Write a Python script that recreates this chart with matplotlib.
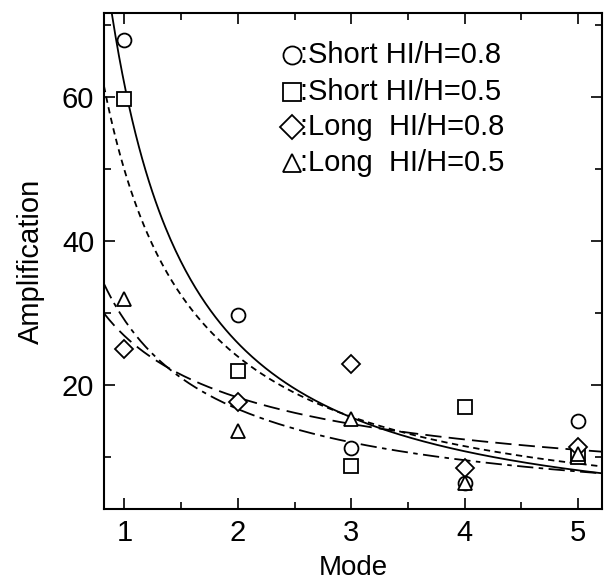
import numpy as np
import matplotlib
matplotlib.use("Agg")
import matplotlib.pyplot as plt
from matplotlib.ticker import MultipleLocator

plt.rcParams['font.family'] = ['Liberation Sans', 'DejaVu Sans']

modes = [1, 2, 3, 4, 5]
short_08 = [67.9, 29.7, 11.3, 6.4, 15.0]
short_05 = [59.7, 21.9, 8.8, 17.0, 10.0]
long_08 = [25.0, 17.7, 22.9, 8.5, 11.4]
long_05 = [32.0, 13.6, 15.3, 6.4, 10.5]
labels = [":Short HI/H=0.8", ":Short HI/H=0.5", ":Long  HI/H=0.8", ":Long  HI/H=0.5"]

series = [short_08, short_05, long_08, long_05]
markers = ['o', 's', 'D', '^']
msizes = [10, 10, 9, 10]
lstyles = ['-', (0, (3.5, 2.5)), (0, (9, 4)), (0, (9, 3, 2.5, 3))]

fig = plt.figure(figsize=(6.08, 5.85), dpi=100)
ax = fig.add_axes([0.171, 0.130, 0.819, 0.848])

xlo, xhi = 0.82, 5.21
xs = np.linspace(xlo, xhi, 300)
m = np.array(modes, dtype=float)
for vals, mk, ms, ls in zip(series, markers, msizes, lstyles):
    v = np.array(vals)
    b, a = np.polyfit(np.log(m), np.log(v), 1)
    ax.plot(xs, np.exp(a) * xs ** b, color='black', lw=1.3, linestyle=ls)
    ax.plot(m, v, linestyle='none', marker=mk, ms=ms, mfc='white', mec='black', mew=1.3, zorder=3)

# legend (manual)
ys = [0.915, 0.841, 0.770, 0.698]
for mk, ms, y, lab in zip(markers, msizes, ys, labels):
    ax.plot([0.378], [y], transform=ax.transAxes, marker=mk, ms=ms + 3, mfc='white',
            mec='black', mew=1.3, linestyle='none', clip_on=False)
    ax.text(0.394, y, lab, transform=ax.transAxes, fontsize=21, va='center', ha='left')

ax.set_xlim(xlo, xhi)
ax.set_ylim(2.8, 71.7)
ax.xaxis.set_major_locator(MultipleLocator(1))
ax.xaxis.set_minor_locator(MultipleLocator(0.5))
ax.yaxis.set_major_locator(MultipleLocator(20))
ax.yaxis.set_minor_locator(MultipleLocator(10))
ax.tick_params(which='both', direction='in', top=True, right=True, width=1.2, labelsize=21)
ax.tick_params(which='major', length=8, pad=7)
ax.tick_params(which='minor', length=5)
for s in ax.spines.values():
    s.set_linewidth(1.5)

ax.set_xlabel('Mode', fontsize=20, labelpad=6)
ax.set_ylabel('Amplification', fontsize=21, labelpad=12)

fig.savefig('out.png', dpi=100)
